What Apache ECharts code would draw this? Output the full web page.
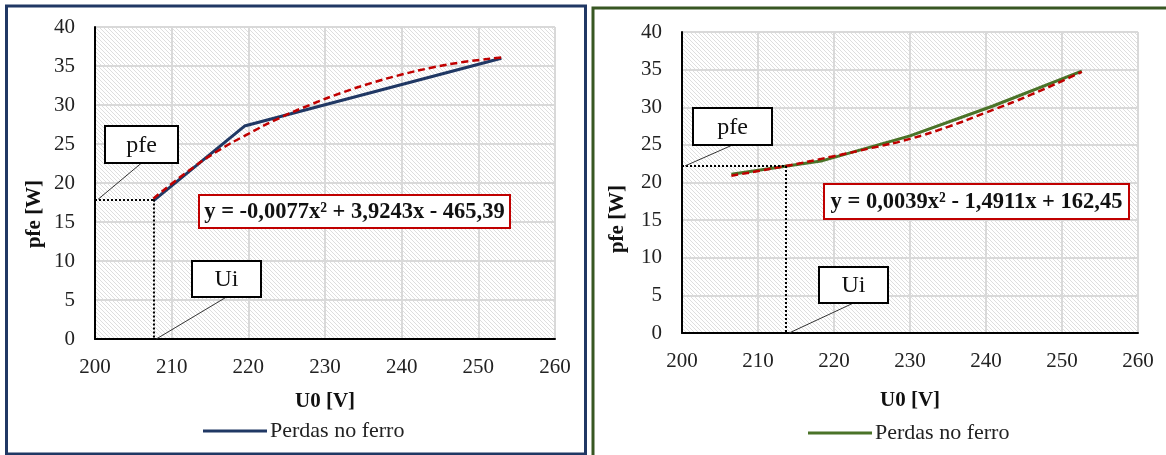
<!DOCTYPE html>
<html>
<head>
<meta charset="utf-8">
<title>Perdas no ferro</title>
<script src="https://cdn.jsdelivr.net/npm/echarts@6/dist/echarts.min.js"></script>
<style>
  html, body { margin: 0; padding: 0; background: #fff; }
  #left_con { position: absolute; left: 0; top: 0; width: 590px; height: 455px; }
  #right_con { position: absolute; left: 590px; top: 0; width: 576px; height: 455px; }
</style>
</head>
<body>
<div id="left_con"></div>
<div id="right_con"></div>
<script>
// eixos (iguais nos dois graficos)
const xTicks = [200, 210, 220, 230, 240, 250, 260];
const yTicks = [0, 5, 10, 15, 20, 25, 30, 35, 40];
const seriesName = "Perdas no ferro";

// grafico da esquerda
const leftU0 = [207.6, 219.5, 253.0];
const leftPfe = [17.7, 27.3, 36.0];
const leftTrendU0 = [207.6, 212, 216, 220, 224, 228, 232, 236, 240, 244, 248, 253];
const leftTrendPfe = [18.0, 21.4, 24.1, 26.3, 28.3, 30.0, 31.5, 32.8, 33.9, 34.8, 35.5, 36.1];
const leftUi = 207.6;
const leftPfeUi = 17.9;
const leftEquation = "y = -0,0077x² + 3,9243x - 465,39";

// grafico da direita
const rightU0 = [206.5, 218.5, 230.0, 241.0, 252.6];
const rightPfe = [21.1, 22.9, 26.2, 30.2, 34.8];
const rightTrendU0 = [206.5, 213.7, 220, 225, 230, 235, 240, 246, 252.6];
const rightTrendPfe = [20.9, 22.2, 23.5, 24.6, 25.8, 27.4, 29.3, 31.7, 34.7];
const rightUi = 213.7;
const rightPfeUi = 22.2;
const rightEquation = "y = 0,0039x² - 1,4911x + 162,45";

const FONT = '"Liberation Serif", "Times New Roman", serif';

function zip(xs, ys) {
  return xs.map(function (x, i) { return [x, ys[i]]; });
}

// textura tracejada do fundo (estilo Excel)
function hatch() {
  const c = document.createElement("canvas");
  c.width = 8; c.height = 8;
  const ctx = c.getContext("2d");
  ctx.fillStyle = "#fff";
  ctx.fillRect(0, 0, 8, 8);
  ctx.strokeStyle = "#dedede";
  ctx.lineWidth = 1;
  for (let k = -8; k <= 8; k += 4) {
    ctx.beginPath();
    ctx.moveTo(k, 0);
    ctx.lineTo(k + 8, 8);
    ctx.stroke();
  }
  return c;
}

function buildChart(dom, cfg) {
  const chart = echarts.init(dom);
  const option = {
    animation: false,
    textStyle: { fontFamily: FONT },
    grid: {
      left: cfg.grid[0], top: cfg.grid[1], width: cfg.grid[2], height: cfg.grid[3],
      show: true, borderWidth: 0,
      backgroundColor: { image: hatch(), repeat: "repeat" }
    },
    legend: {
      data: [seriesName],
      left: cfg.legend[0], top: cfg.legend[1],
      padding: 0,
      icon: "rect", itemWidth: 64, itemHeight: 3, itemGap: 4,
      textStyle: { fontFamily: FONT, fontSize: 22, color: "#222", padding: [0, 0, 0, -2] }
    },
    xAxis: {
      type: "value",
      min: xTicks[0], max: xTicks[xTicks.length - 1], interval: xTicks[1] - xTicks[0],
      name: "U0 [V]", nameLocation: "middle", nameGap: cfg.nameGap,
      nameTextStyle: { fontFamily: FONT, fontSize: 21, fontWeight: "bold", color: "#111" },
      axisLine: { lineStyle: { color: "#000", width: 2 } },
      axisTick: { show: false },
      axisLabel: { fontFamily: FONT, fontSize: 21, color: "#222", margin: cfg.xMargin },
      splitLine: { show: true, lineStyle: { color: "#d9d9d9", width: 2 } }
    },
    yAxis: {
      type: "value",
      min: yTicks[0], max: yTicks[yTicks.length - 1], interval: yTicks[1] - yTicks[0],
      axisLine: { show: true, lineStyle: { color: "#000", width: 2 } },
      axisTick: { show: false },
      axisLabel: { fontFamily: FONT, fontSize: 21, color: "#222", margin: 20 },
      splitLine: { show: true, lineStyle: { color: "#d9d9d9", width: 2 } }
    },
    series: [
      {
        name: seriesName,
        type: "line",
        data: zip(cfg.u0, cfg.pfe),
        showSymbol: false,
        color: cfg.color,
        lineStyle: { color: cfg.color, width: 3 },
        markLine: {
          silent: true,
          symbol: "none",
          label: { show: false },
          lineStyle: { color: "#000", width: 2, type: [2, 2] },
          data: [
            [{ coord: [xTicks[0], cfg.pfeUi] }, { coord: [cfg.ui, cfg.pfeUi] }],
            [{ coord: [cfg.ui, cfg.pfeUi] }, { coord: [cfg.ui, yTicks[0]] }]
          ]
        }
      },
      {
        name: "tendencia",
        type: "line",
        data: zip(cfg.trendU0, cfg.trendPfe),
        smooth: true,
        showSymbol: false,
        lineStyle: { color: "#c00000", width: 2.5, type: [7, 4] }
      }
    ]
  };
  chart.setOption(option);

  // anotacoes: caixas, linhas de chamada, titulo do eixo y, moldura
  const pPfe = chart.convertToPixel({ gridIndex: 0 }, [xTicks[0], cfg.pfeUi]);
  const pUi = chart.convertToPixel({ gridIndex: 0 }, [cfg.ui, yTicks[0]]);
  const box = function (r, text, stroke, font) {
    return [
      {
        type: "rect", z: 100,
        shape: { x: r[0], y: r[1], width: r[2] - r[0], height: r[3] - r[1] },
        style: { fill: "#fff", stroke: stroke, lineWidth: 2 }
      },
      {
        type: "text", z: 101,
        x: (r[0] + r[2]) / 2, y: (r[1] + r[3]) / 2 + 1,
        style: { text: text, font: font, fill: "#111", align: "center", verticalAlign: "middle" }
      }
    ];
  };
  const leader = function (x1, y1, x2, y2) {
    return {
      type: "line", z: 99,
      shape: { x1: x1, y1: y1, x2: x2, y2: y2 },
      style: { stroke: "#333", lineWidth: 1 }
    };
  };
  const g = [].concat(
    box(cfg.pfeBox, "pfe", "#000", "24px " + FONT),
    box(cfg.uiBox, "Ui", "#000", "24px " + FONT),
    box(cfg.eqBox, cfg.equation, "#c00000", "bold 22.5px " + FONT),
    [
      leader((cfg.pfeBox[0] + cfg.pfeBox[2]) / 2, cfg.pfeBox[3], pPfe[0] + 3, pPfe[1]),
      leader((cfg.uiBox[0] + cfg.uiBox[2]) / 2, cfg.uiBox[3], pUi[0] + 3, pUi[1]),
      {
        type: "text", x: cfg.yTitle[0], y: cfg.yTitle[1], rotation: Math.PI / 2,
        style: { text: "pfe [W]", font: "bold 21px " + FONT, fill: "#111", align: "center", verticalAlign: "middle" }
      },
      {
        type: "rect", z: 120,
        shape: { x: cfg.frame[0], y: cfg.frame[1], width: cfg.frame[2], height: cfg.frame[3] },
        style: { fill: "none", stroke: cfg.frameColor, lineWidth: 3 }
      }
    ]
  );
  chart.setOption({ graphic: g });
  return chart;
}

const leftChart = buildChart(document.getElementById("left_con"), {
  grid: [95, 27, 460, 312],
  legend: [203, 420],
  nameGap: 52,
  xMargin: 18,
  color: "#203864",
  u0: leftU0, pfe: leftPfe,
  trendU0: leftTrendU0, trendPfe: leftTrendPfe,
  ui: leftUi, pfeUi: leftPfeUi,
  equation: leftEquation,
  pfeBox: [105, 126, 178, 163],
  uiBox: [192, 261, 261, 297],
  eqBox: [199, 195, 510, 228],
  yTitle: [35, 214],
  frame: [6.5, 6, 579, 448],
  frameColor: "#203864"
});

const rightChart = buildChart(document.getElementById("right_con"), {
  grid: [92, 32, 456, 301],
  legend: [218, 422],
  nameGap: 57,
  xMargin: 18,
  color: "#4a7328",
  u0: rightU0, pfe: rightPfe,
  trendU0: rightTrendU0, trendPfe: rightTrendPfe,
  ui: rightUi, pfeUi: rightPfeUi,
  equation: rightEquation,
  pfeBox: [103, 108, 182, 145],
  uiBox: [229, 267, 298, 303],
  eqBox: [234, 184, 539, 219],
  yTitle: [28, 219],
  frame: [3, 8, 600, 460],
  frameColor: "#385723"
});

window.addEventListener("resize", function () {
  leftChart.resize();
  rightChart.resize();
});
</script>
</body>
</html>
